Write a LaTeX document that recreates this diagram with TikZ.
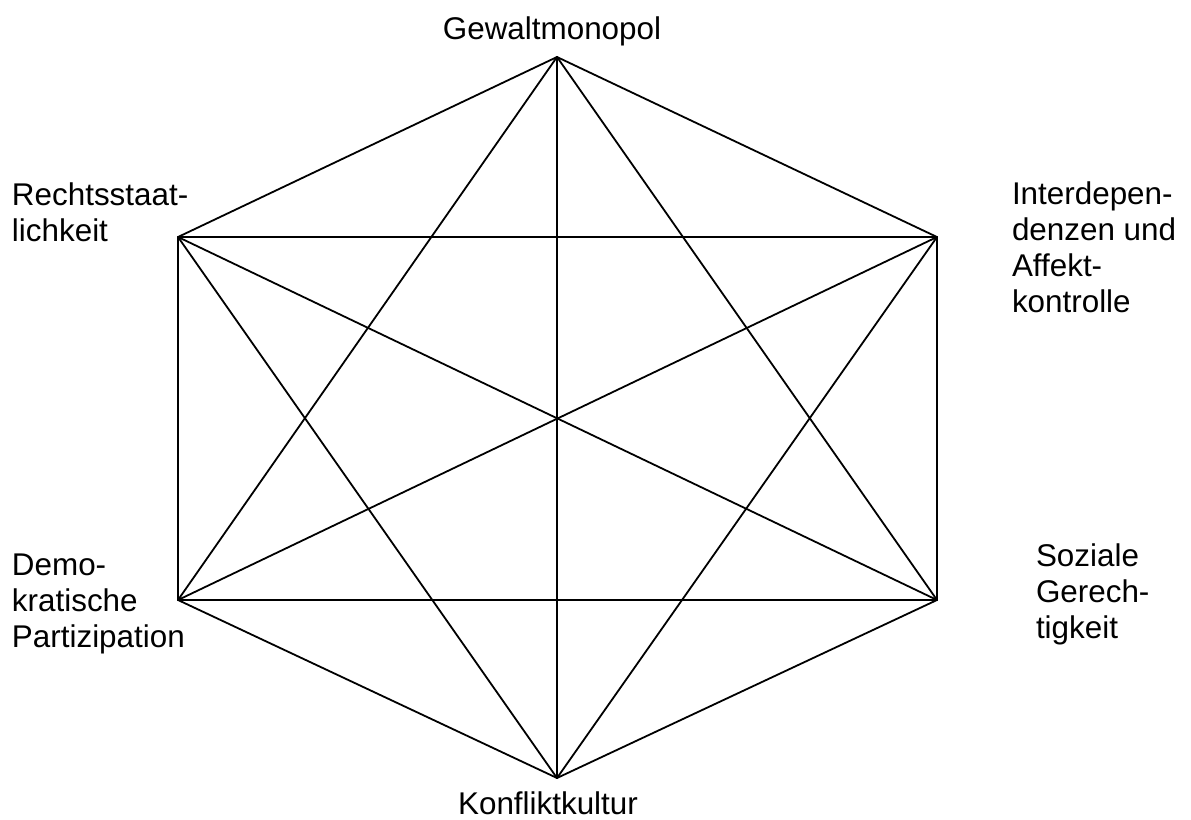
\documentclass[tikz,border=0pt]{standalone}
\usepackage{fontspec}
\setmainfont{Liberation Sans}
\newcommand{\mylines}[1]{\begin{tabular}[t]{@{}l@{}}#1\end{tabular}}
\begin{document}
\begin{tikzpicture}[x=1pt,y=-1pt,
  edge/.style={line width=1.8pt,line cap=round,line join=round},
  lbl/.style={inner sep=0pt,outer sep=0pt,anchor=base west,font=\fontsize{31.4}{36}\selectfont},
  ctr/.style={inner sep=0pt,outer sep=0pt,anchor=base,font=\fontsize{31.4}{36}\selectfont}]
\useasboundingbox (0,0) rectangle (1191,819);
\coordinate (T)  at (557,57);
\coordinate (UR) at (937,237);
\coordinate (LR) at (937,600);
\coordinate (B)  at (557,778);
\coordinate (LL) at (178,600);
\coordinate (UL) at (178,237);
% hexagon sides
\draw[edge] (T) -- (UR);
\draw[edge] (UR) -- (LR);
\draw[edge] (LR) -- (B);
\draw[edge] (B) -- (LL);
\draw[edge] (LL) -- (UL);
\draw[edge] (UL) -- (T);
% long diagonals
\draw[edge] (T) -- (B);
\draw[edge] (UL) -- (LR);
\draw[edge] (UR) -- (LL);
% short diagonals
\draw[edge] (T) -- (LL);
\draw[edge] (T) -- (LR);
\draw[edge] (UL) -- (UR);
\draw[edge] (LL) -- (LR);
\draw[edge] (UL) -- (B);
\draw[edge] (UR) -- (B);
% labels
\node[ctr] (lT) at (552,39) {Gewaltmonopol};
\node[ctr] (lB) at (548,814) {Konfliktkultur};
\node[lbl] (lUL) at (12,205) {\mylines{Rechtsstaat-\\lichkeit}};
\node[lbl] (lUR) at (1012,204) {\mylines{Interdepen-\\denzen und\\Affekt-\\kontrolle}};
\node[lbl] (lLL) at (12,575) {\mylines{Demo-\\kratische\\Partizipation}};
\node[lbl] (lLR) at (1036,566) {\mylines{Soziale\\Gerech-\\tigkeit}};
\end{tikzpicture}
\end{document}
